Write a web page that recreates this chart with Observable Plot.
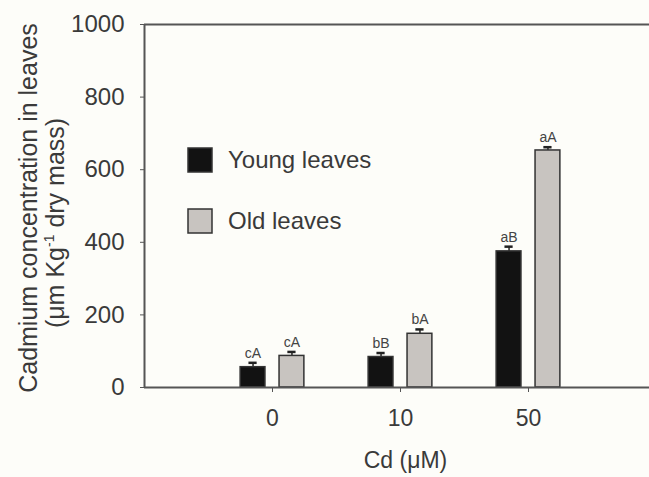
<!DOCTYPE html>
<html><head><meta charset="utf-8">
<script src="https://cdn.jsdelivr.net/npm/d3@7"></script>
<script src="https://cdn.jsdelivr.net/npm/@observablehq/plot@0.6"></script>
<style>body{margin:0;background:#fdfdf9}</style>
</head><body><div id="chart"></div>
<script>
const doses = ["0", "10", "50"];
const series = ["Young leaves", "Old leaves"];
const young = [56, 84, 375];
const youngErr = [12, 11, 13];
const youngLetters = ["cA", "bB", "aB"];
const old = [87, 148, 653];
const oldErr = [11, 12, 9];
const oldLetters = ["cA", "bA", "aA"];
const yTicks = [0, 200, 400, 600, 800, 1000];

const offset = {"Young leaves": -0.152, "Old leaves": 0.152};
const halfW = 0.097;
const capHalf = 0.032;
const colors = {"Young leaves": "#121212", "Old leaves": "#c8c4c0"};
const font = "'Liberation Sans', Arial, sans-serif";

const rows = [];
doses.forEach((d, i) => {
  rows.push({dose: d, pos: i + 1, series: series[0], value: young[i], err: youngErr[i], letter: youngLetters[i]});
  rows.push({dose: d, pos: i + 1, series: series[1], value: old[i], err: oldErr[i], letter: oldLetters[i]});
});
rows.forEach(r => { r.xc = r.pos + offset[r.series]; r.top = r.value + r.err; });

const plot = Plot.plot({
  width: 649, height: 477,
  marginLeft: 144, marginRight: 0, marginTop: 24, marginBottom: 90,
  style: {background: "transparent", fontFamily: font, fontSize: "23px", color: "#3a3a3a", overflow: "hidden"},
  x: {domain: [0, 4], range: [144, 656]},
  y: {domain: [0, 1000]},
  marks: [
    Plot.ruleX(rows, {x: "xc", y1: "value", y2: "top", stroke: "#222", strokeWidth: 1.5}),
    Plot.ruleY(rows, {y: "top", x1: d => d.xc - capHalf, x2: d => d.xc + capHalf, stroke: "#222", strokeWidth: 2.5}),
    Plot.rect(rows, {x1: d => d.xc - halfW, x2: d => d.xc + halfW, y1: 0, y2: "value", fill: d => colors[d.series], stroke: "#333", strokeWidth: 1.5}),
    Plot.text(rows, {x: "xc", y: "top", text: "letter", dy: -5, lineAnchor: "bottom", fontSize: 14, fill: "#444"}),
    Plot.ruleX([0], {y1: 0, y2: 1000, stroke: "#555", strokeWidth: 2}),
    Plot.ruleY([0, 1000], {stroke: "#555", strokeWidth: 2}),
    Plot.axisY({ticks: yTicks, tickFormat: d => String(d), tickSize: 4, tickPadding: 16, fontSize: 24, label: null, stroke: "#555"}),
    Plot.axisX({ticks: [1, 2, 3], tickFormat: i => doses[i - 1], tickSize: 5, tickPadding: 17, fontSize: 23, label: null, stroke: "#555"}),
    Plot.text(["Cd (μM)"], {x: 2, frameAnchor: "bottom", dx: 5, dy: 73, lineAnchor: "middle", fontSize: 23, fill: "#3a3a3a"})
  ]
});
document.getElementById("chart").append(plot);

const svg = d3.select(plot);
// y axis title (two lines)
svg.append("text").attr("transform", "translate(37,208) rotate(-90)")
  .attr("text-anchor", "middle").attr("font-size", 25).attr("fill", "#3a3a3a").attr("font-family", font)
  .text("Cadmium concentration in leaves");
const t2 = svg.append("text").attr("transform", "translate(64,223) rotate(-90)")
  .attr("text-anchor", "middle").attr("font-size", 25).attr("fill", "#3a3a3a").attr("font-family", font);
t2.append("tspan").text("(μm Kg");
t2.append("tspan").attr("font-size", 14).attr("dy", -10).text("-1");
t2.append("tspan").attr("dy", 10).text(" dry mass)");

// legend
const legend = svg.append("g").attr("font-family", font).attr("font-size", 24)
  .attr("fill", "#3a3a3a").attr("text-anchor", "start");
series.forEach((s, i) => {
  const y0 = 148 + i * 61;
  legend.append("rect").attr("x", 188).attr("y", y0).attr("width", 24).attr("height", 24)
    .attr("fill", colors[s]).attr("stroke", "#333").attr("stroke-width", 1.5);
  legend.append("text").attr("x", 228).attr("y", y0 + 20).text(s);
});
</script></body></html>
